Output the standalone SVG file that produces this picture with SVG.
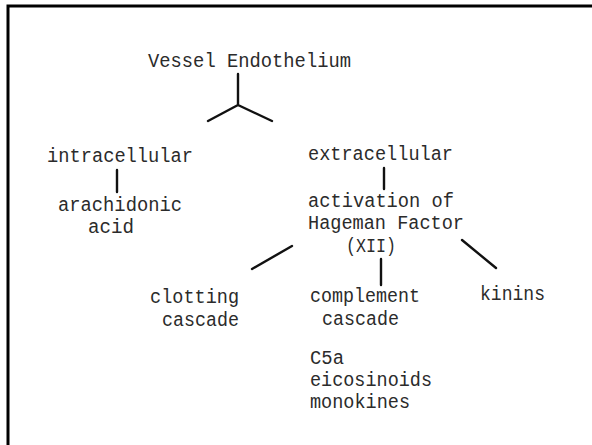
<svg xmlns="http://www.w3.org/2000/svg" width="592" height="445" viewBox="0 0 592 445">
  <style>
    .t { font-family: "Liberation Mono", "Courier New", monospace; font-size: 20px; fill: #2b2b2b; }
    .c { stroke: #111; stroke-width: 2.4; fill: none; stroke-linecap: round; }
  </style>
  <rect x="0" y="0" width="592" height="445" fill="#fff"/>
  <rect x="8" y="6" width="620" height="480" fill="none" stroke="#000" stroke-width="3"/>

  <g id="vessel-endothelium"><text class="t" x="148" y="67" textLength="203" lengthAdjust="spacingAndGlyphs">Vessel Endothelium</text></g>
  <g id="intracellular"><text class="t" x="47" y="162" textLength="146" lengthAdjust="spacingAndGlyphs">intracellular</text></g>
  <g id="arachidonic-acid">
    <text class="t" x="58" y="211" textLength="124" lengthAdjust="spacingAndGlyphs">arachidonic</text>
    <text class="t" x="88" y="233" textLength="46" lengthAdjust="spacingAndGlyphs">acid</text>
  </g>
  <g id="extracellular"><text class="t" x="308" y="160" textLength="145" lengthAdjust="spacingAndGlyphs">extracellular</text></g>
  <g id="hageman">
    <text class="t" x="308" y="207" textLength="146" lengthAdjust="spacingAndGlyphs">activation of</text>
    <text class="t" x="308" y="229" textLength="156" lengthAdjust="spacingAndGlyphs">Hageman Factor</text>
    <text class="t" x="346" y="252" textLength="50" lengthAdjust="spacingAndGlyphs">(XII)</text>
  </g>
  <g id="clotting">
    <text class="t" x="150" y="303" textLength="89" lengthAdjust="spacingAndGlyphs">clotting</text>
    <text class="t" x="162" y="326" textLength="77" lengthAdjust="spacingAndGlyphs">cascade</text>
  </g>
  <g id="complement">
    <text class="t" x="310" y="302" textLength="110" lengthAdjust="spacingAndGlyphs">complement</text>
    <text class="t" x="322" y="325" textLength="77" lengthAdjust="spacingAndGlyphs">cascade</text>
  </g>
  <g id="kinins"><text class="t" x="480" y="300" textLength="65" lengthAdjust="spacingAndGlyphs">kinins</text></g>
  <g id="products">
    <text class="t" x="310" y="364" textLength="34" lengthAdjust="spacingAndGlyphs">C5a</text>
    <text class="t" x="310" y="386" textLength="122" lengthAdjust="spacingAndGlyphs">eicosinoids</text>
    <text class="t" x="310" y="408" textLength="100" lengthAdjust="spacingAndGlyphs">monokines</text>
  </g>

  <g id="connectors">
    <path class="c" d="M238 74 V105 M238 105 L208 121 M238 105 L272 121"/>
    <path class="c" d="M117 170 V192"/>
    <path class="c" d="M384 168 V189"/>
    <path class="c" d="M292 246 L252 269"/>
    <path class="c" d="M381 259 V285"/>
    <path class="c" d="M462 240 L496 268"/>
  </g>
</svg>
